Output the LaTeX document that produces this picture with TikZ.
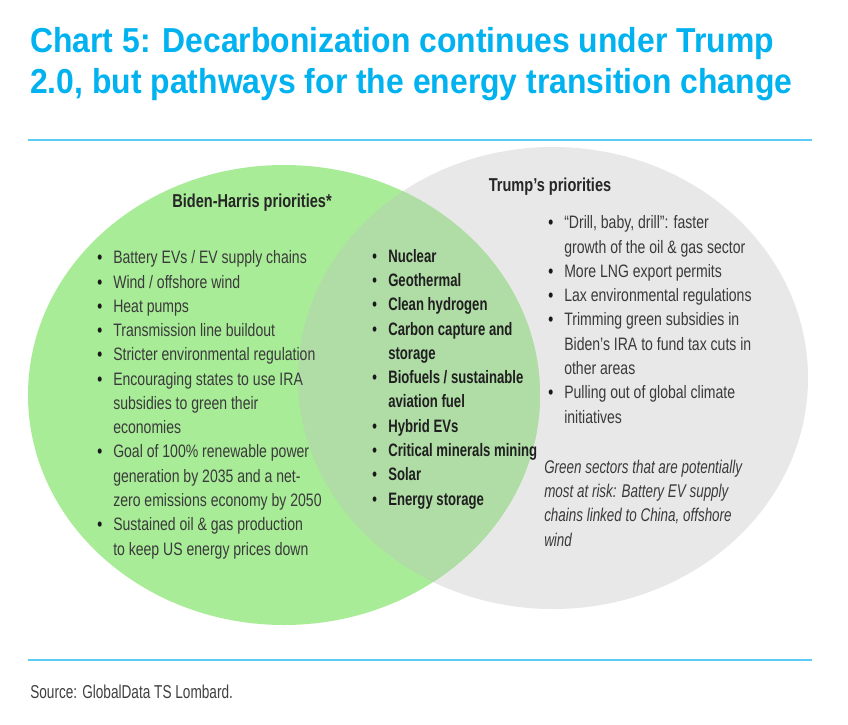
\documentclass[tikz,border=0pt]{standalone}
\usepackage{fontspec}
\setmainfont{Liberation Sans}
\newfontfamily\condfont[FakeStretch=0.78]{Liberation Sans}
\newfontfamily\narrowfont[FakeStretch=0.73]{Liberation Sans}
\newfontfamily\headfont[FakeStretch=0.92]{Liberation Sans}
\usetikzlibrary{positioning}

\definecolor{chartblue}{RGB}{0,178,240}
\definecolor{rulecyan}{RGB}{90,204,246}
\definecolor{bidengreen}{RGB}{168,236,152}
\definecolor{trumpgrey}{RGB}{232,232,232}
\definecolor{bothgreen}{RGB}{176,220,166}
\definecolor{bodytext}{RGB}{58,58,58}

\newcommand{\bul}{\makebox[12pt][l]{\textcolor{black!90}{\bfseries\textbullet}}}
\newcommand{\ind}{\hspace*{12pt}}

% lists are placed by the baseline of their last line
\tikzset{
    listtext/.style={anchor=base west, align=left, inner sep=0pt, text=bodytext,
        font=\condfont\fontsize{13.5}{18.2}\selectfont},
    headtext/.style={inner sep=0pt, text=black!85, font=\condfont\bfseries\fontsize{14}{17}\selectfont},
    rule/.style={draw=rulecyan, line width=1.6pt}
}

\begin{document}
\begin{tikzpicture}[x=0.75pt, y=-0.75pt]

    \useasboundingbox[fill=white] (0,0) rectangle (848,724);

    %%% Title
    \node (title) [anchor=base west, align=left, inner sep=0pt, text=chartblue,
        font=\headfont\bfseries\fontsize{26}{30}\selectfont] at (30,93)
        {Chart 5: Decarbonization continues under Trump\\
         2.0, but pathways for the energy transition change};
    \draw[rule] (28,140) -- (812,140);

    %%% The two sets
    \fill[trumpgrey] (553,378) ellipse [x radius=255, y radius=231];
    \fill[bidengreen] (284,395) ellipse [x radius=256, y radius=230];
    % overlap
    \begin{scope}
        \clip (553,378) ellipse [x radius=255, y radius=231];
        \fill[bothgreen] (284,395) ellipse [x radius=256, y radius=230];
    \end{scope}

    %%% Headings
    \node (biden) [headtext] at (252,203) {Biden-Harris priorities*};
    \node (trump) [headtext] at (550,187) {Trump’s priorities};

    %%% Biden-Harris only
    \node (bidenlist) [listtext] at (97,555) {%
        \bul Battery EVs / EV supply chains\\
        \bul Wind / offshore wind\\
        \bul Heat pumps\\
        \bul Transmission line buildout\\
        \bul Stricter environmental regulation\\
        \bul Encouraging states to use IRA\\
        \ind subsidies to green their\\
        \ind economies\\
        \bul Goal of 100\% renewable power\\
        \ind generation by 2035 and a net-\\
        \ind zero emissions economy by 2050\\
        \bul Sustained oil \& gas production\\
        \ind to keep US energy prices down};

    %%% Shared
    \node (bothlist) [listtext, text=black!88, font=\narrowfont\bfseries\fontsize{13.5}{18.2}\selectfont]
        at (372,505) {%
        \bul Nuclear\\
        \bul Geothermal\\
        \bul Clean hydrogen\\
        \bul Carbon capture and\\
        \ind storage\\
        \bul Biofuels / sustainable\\
        \ind aviation fuel\\
        \bul Hybrid EVs\\
        \bul Critical minerals mining\\
        \bul Solar\\
        \bul Energy storage};

    %%% Trump only
    \node (trumplist) [listtext] at (548,423) {%
        \bul “Drill, baby, drill”: faster\\
        \ind growth of the oil \& gas sector\\
        \bul More LNG export permits\\
        \bul Lax environmental regulations\\
        \bul Trimming green subsidies in\\
        \ind Biden’s IRA to fund tax cuts in\\
        \ind other areas\\
        \bul Pulling out of global climate\\
        \ind initiatives};

    % sectors at risk
    \node (atrisk) [listtext, font=\narrowfont\itshape\fontsize{13.8}{18.2}\selectfont] at (544,546) {%
        Green sectors that are potentially\\
        most at risk: Battery EV supply\\
        chains linked to China, offshore\\
        wind};

    %%% Source
    \draw[rule] (28,660) -- (812,660);
    \node (source) [anchor=base west, inner sep=0pt, text=black!75,
        font=\narrowfont\fontsize{14}{17}\selectfont] at (30,698) {Source: GlobalData TS Lombard.};

\end{tikzpicture}
\end{document}
